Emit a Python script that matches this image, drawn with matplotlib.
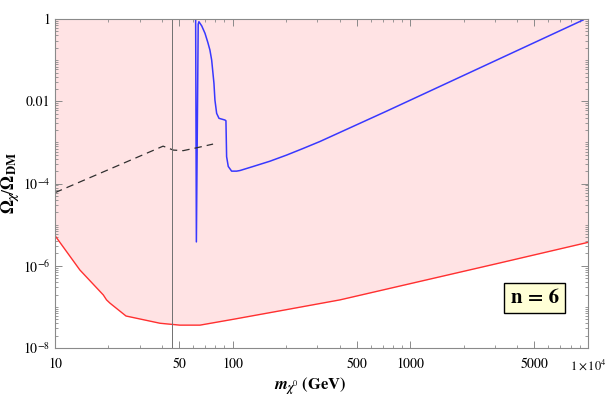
import matplotlib
matplotlib.use("Agg")
import matplotlib.pyplot as plt
from matplotlib.ticker import FixedLocator, NullFormatter

plt.rcParams["font.family"] = ["STIXGeneral", "DejaVu Serif"]
plt.rcParams["mathtext.fontset"] = "stix"

# lower bound (red) - shaded region above it
red_x = [10, 13.8, 18.7, 19.5, 20.4, 25.1, 39, 50.4, 65.5, 101, 193, 402, 871, 3193, 10000]
red_y = [5.4e-6, 7.9e-7, 1.95e-7, 1.48e-7, 1.23e-7, 6.0e-8, 4.0e-8, 3.6e-8, 3.6e-8,
         5.0e-8, 8.3e-8, 1.48e-7, 3.2e-7, 1.17e-6, 3.7e-6]

# relic abundance (blue)
blue_x = [61.9, 62.5, 64.0, 64.6, 67.0, 69.9, 72.5, 74.5, 76.2, 78.5, 79.5, 81.3, 83.8,
          90.5, 91.7, 92.5, 94.5, 98.7, 105.3, 110, 130.6, 162, 201, 249, 310, 736, 9400]
blue_y = [1.5, 3.8e-6, 0.75, 0.86, 0.68, 0.449, 0.27, 0.176, 0.1007, 0.0273, 0.0107,
          0.00508, 0.00385, 0.0035, 0.00336, 4.5e-4, 2.6e-4, 2.0e-4, 2.0e-4, 2.07e-4,
          2.6e-4, 3.48e-4, 4.9e-4, 7.1e-4, 1.05e-3, 5.75e-3, 0.946]

# dashed curve
dash_x = [10, 40.6, 46.4, 52.7, 62.8, 77.6]
dash_y = [6.0e-5, 8.1e-4, 6.5e-4, 6.3e-4, 7.4e-4, 9.1e-4]

mz_half = 45.7

x_ticks = [10, 50, 100, 500, 1000, 5000, 10000]
x_labels = ["10", "50", "100", "500", "1000", "5000", r"$1\times10^{4}$"]
y_ticks = [1e-8, 1e-6, 1e-4, 1e-2, 1]
y_labels = [r"$10^{-8}$", r"$10^{-6}$", r"$10^{-4}$", "0.01", "1"]

fig = plt.figure(figsize=(6.06, 3.98), dpi=100)
ax = fig.add_axes([0.0908, 0.1256, 0.8792, 0.8266])

ax.fill_between(red_x, red_y, 10, color="#ffe3e4", lw=0)
ax.plot(red_x, red_y, color="#ff3030", lw=1.0)
ax.plot(blue_x, blue_y, color="#3838ff", lw=1.1)
ax.plot(dash_x, dash_y, color="#303030", lw=0.9, dashes=(6, 4))
ax.axvline(mz_half, color="#707070", lw=0.7)

ax.set_xscale("log")
ax.set_yscale("log")
ax.set_xlim(10, 10000)
ax.set_ylim(1e-8, 1)

ax.xaxis.set_major_locator(FixedLocator(x_ticks))
ax.set_xticklabels(x_labels)
ax.get_xticklabels()[-1].set_fontsize(9)
x_minor = [m * d for d in (10, 100, 1000) for m in range(2, 10) if m != 5]
ax.xaxis.set_minor_locator(FixedLocator(x_minor))
ax.xaxis.set_minor_formatter(NullFormatter())

ax.yaxis.set_major_locator(FixedLocator(y_ticks))
ax.set_yticklabels(y_labels)
y_minor = [m * 10.0 ** e for e in range(-8, 0) for m in range(1, 10)
           if not (m == 1 and e % 2 == 0)]
ax.yaxis.set_minor_locator(FixedLocator(y_minor))
ax.yaxis.set_minor_formatter(NullFormatter())

for s in ax.spines.values():
    s.set_color("#8a8a8a")
    s.set_linewidth(0.8)
ax.tick_params(which="both", direction="in", top=True, right=True,
               color="#8a8a8a", labelsize=10)
ax.tick_params(axis="x", which="major", pad=7)
ax.tick_params(which="major", length=5, width=0.7)
ax.tick_params(which="minor", length=2.5, width=0.6)
ax.get_xticklabels()[-1].set_fontsize(9)

ax.set_xlabel(r"$\mathbfit{m}_{\mathbfit{\chi}^{0}}$ (GeV)", fontsize=12,
              fontweight="bold")
ax.xaxis.set_label_coords(0.48, -0.082)
ax.set_ylabel(r"$\mathbf{\Omega}_{\mathbfit{\chi}}/\mathbf{\Omega}_{\mathbf{DM}}$",
              fontsize=13, fontweight="bold")
ax.yaxis.set_label_coords(-0.062, 0.5)

ax.text(0.90, 0.152, "n = 6", transform=ax.transAxes, fontsize=15,
        fontweight="bold", ha="center", va="center",
        bbox=dict(boxstyle="square,pad=0.3", fc="#ffffd6", ec="black", lw=1.0))

fig.savefig("out.png", dpi=100)
